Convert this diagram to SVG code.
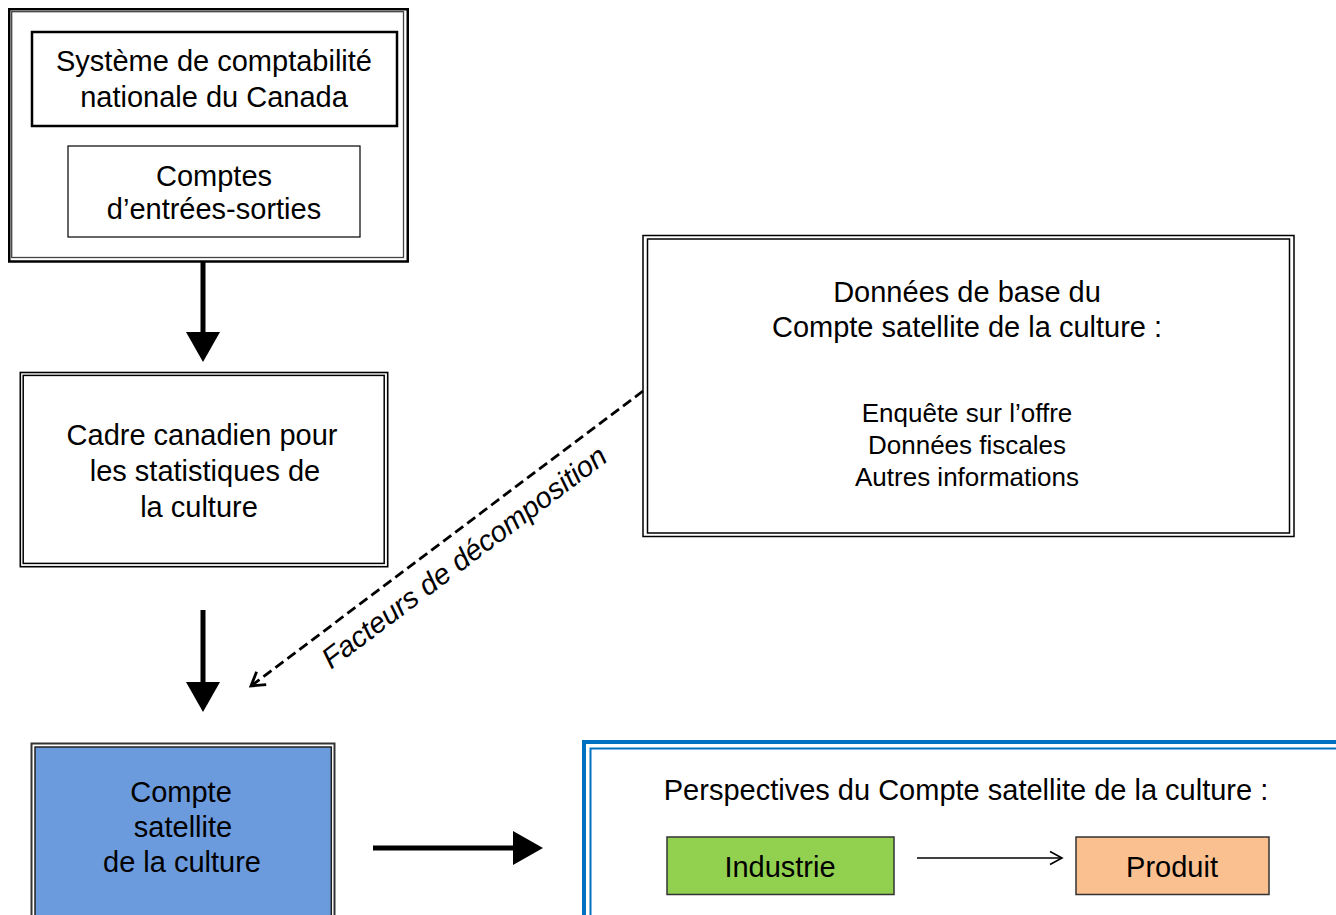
<svg xmlns="http://www.w3.org/2000/svg" width="1336" height="915" viewBox="0 0 1336 915">
<style>
text{font-family:"Liberation Sans",Arial,sans-serif;fill:#000;text-anchor:middle}
.t29{font-size:29px}
.t26{font-size:26px}
.box{fill:none;stroke:#000}
</style>
<defs>
<marker id="bigHead" markerUnits="userSpaceOnUse" viewBox="0 0 30 34" refX="1" refY="17" markerWidth="30" markerHeight="34" orient="auto">
<path d="M0,0 L30,17 L0,34 Z" fill="#000"/>
</marker>
<marker id="openHeadDash" markerUnits="userSpaceOnUse" viewBox="0 0 20 20" refX="16" refY="10" markerWidth="20" markerHeight="20" orient="auto">
<path d="M3,2 L16,10 L3,18" fill="none" stroke="#000" stroke-width="2.8"/>
</marker>
<marker id="openHeadThin" markerUnits="userSpaceOnUse" viewBox="0 0 16 16" refX="14" refY="8" markerWidth="16" markerHeight="16" orient="auto">
<path d="M2,1.5 L14,8 L2,14.5" fill="none" stroke="#000" stroke-width="1.6"/>
</marker>
</defs>

<g id="node-snc">
<rect class="box" x="9.25" y="9.25" width="398.5" height="252.25" stroke-width="2.5"/>
<rect class="box" x="11.7" y="11.7" width="391.8" height="245.8" stroke-width="1.3" style="stroke:#444"/>
<g id="node-systeme">
<rect class="box" x="32" y="32" width="365" height="94" stroke-width="2.5"/>
<text class="t29" x="214" y="71">Système de comptabilité</text>
<text class="t29" x="214" y="107">nationale du Canada</text>
</g>
<g id="node-comptes-es">
<rect class="box" x="68" y="146" width="292" height="91" stroke-width="1.2"/>
<text class="t29" x="214" y="186">Comptes</text>
<text class="t29" x="214" y="219">d’entrées-sorties</text>
</g>
</g>

<g id="node-cadre">
<rect class="box" x="20.3" y="372.5" width="367.4" height="194.2" stroke-width="1.6"/>
<rect class="box" x="23.2" y="375.4" width="361" height="188" stroke-width="1.5"/>
<text class="t29" x="202" y="445">Cadre canadien pour</text>
<text class="t29" x="205" y="481">les statistiques de</text>
<text class="t29" x="199" y="517">la culture</text>
</g>

<g id="node-donnees">
<rect class="box" x="643" y="235.5" width="651" height="301" stroke-width="1.5"/>
<rect class="box" x="647.5" y="239" width="642" height="294" stroke-width="1.5"/>
<text class="t29" x="967" y="302">Données de base du</text>
<text class="t29" x="967" y="337">Compte satellite de la culture :</text>
<text class="t26" x="967" y="422">Enquête sur l’offre</text>
<text class="t26" x="967" y="454">Données fiscales</text>
<text class="t26" x="967" y="486">Autres informations</text>
</g>

<g id="node-csc">
<rect x="31.5" y="743.5" width="303" height="200" fill="none" stroke="#333" stroke-width="2"/>
<rect x="35" y="747" width="296.3" height="200" fill="#6B9BDD" stroke="#222" stroke-width="1.5"/>
<text class="t29" x="181" y="802">Compte</text>
<text class="t29" x="183" y="837">satellite</text>
<text class="t29" x="182" y="872">de la culture</text>
</g>

<g id="node-perspectives">
<rect x="584" y="742" width="764" height="200" fill="none" stroke="#0070C0" stroke-width="4"/>
<rect x="590.5" y="748.5" width="752" height="190" fill="none" stroke="#0070C0" stroke-width="2"/>
<text class="t29" x="966" y="800">Perspectives du Compte satellite de la culture :</text>
<g id="node-industrie">
<rect x="667" y="837" width="227" height="57.5" fill="#92D050" stroke="#333" stroke-width="1.5"/>
<text class="t29" x="780" y="877">Industrie</text>
</g>
<g id="node-produit">
<rect x="1076" y="837" width="193" height="57.5" fill="#FAC090" stroke="#333" stroke-width="1.5"/>
<text class="t29" x="1172" y="877">Produit</text>
</g>
</g>

<g id="connectors">
<line x1="203" y1="262" x2="203" y2="333" stroke="#000" stroke-width="5" marker-end="url(#bigHead)"/>
<line x1="203" y1="610" x2="203" y2="683" stroke="#000" stroke-width="5" marker-end="url(#bigHead)"/>
<line x1="373" y1="848" x2="514" y2="848" stroke="#000" stroke-width="5" marker-end="url(#bigHead)"/>
<line x1="643" y1="391" x2="251" y2="686" stroke="#000" stroke-width="2.8" stroke-dasharray="10 5" marker-end="url(#openHeadDash)"/>
<text x="470" y="565" class="t29" font-style="italic" transform="rotate(-37 470 565)">Facteurs de décomposition</text>
<line x1="917" y1="858" x2="1062" y2="858" stroke="#000" stroke-width="1.4" marker-end="url(#openHeadThin)"/>
</g>
</svg>
